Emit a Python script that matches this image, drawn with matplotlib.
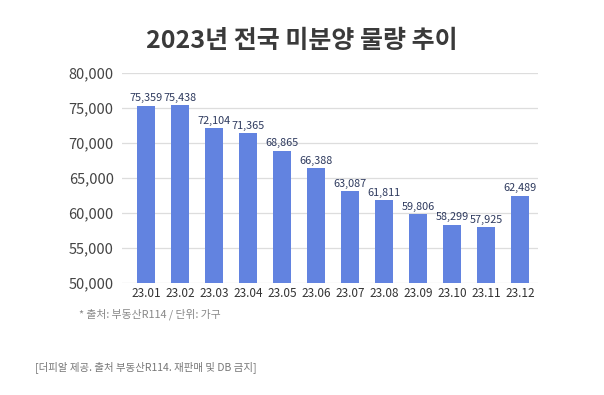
import matplotlib.pyplot as plt
import numpy as np

plt.rcParams['font.family'] = ['Noto Sans CJK KR', 'DejaVu Sans']

# 데이터
months = ['23.01', '23.02', '23.03', '23.04', '23.05', '23.06',
          '23.07', '23.08', '23.09', '23.10', '23.11', '23.12']
unsold = [75359, 75438, 72104, 71365, 68865, 66388,
          63087, 61811, 59806, 58299, 57925, 62489]
yticks = [50000, 55000, 60000, 65000, 70000, 75000, 80000]

fig = plt.figure(figsize=(6.04, 3.95), dpi=100)
ax = fig.add_axes([0.202, 0.284, 0.689, 0.531])

x = np.arange(len(months))
bars = ax.bar(x, unsold, width=0.54, color='#6283E0', zorder=3)

for b, v in zip(bars, unsold):
    ax.text(b.get_x() + b.get_width() / 2, v + 350, f'{v:,}',
            ha='center', va='bottom', fontsize=7.8, color='#2E3A5E')

ax.set_ylim(50000, 80000)
ax.set_xlim(-0.71, 11.53)
ax.set_yticks(yticks)
ax.set_yticklabels([f'{t:,}' for t in yticks], fontsize=10.5, color='#444444')
ax.set_xticks(x)
ax.set_xticklabels(months, fontsize=8.5, color='#333333')
ax.tick_params(length=0, pad=3)
ax.tick_params(axis='y', pad=6)
ax.grid(axis='y', color='#DDDDDD', linewidth=0.9, zorder=0)
for s in ax.spines.values():
    s.set_visible(False)

fig.text(0.5, 0.895, '2023년 전국 미분양 물량 추이', ha='center', va='center',
         fontsize=18, fontweight='bold', color='#3A3A3A')
fig.text(0.13, 0.205, '* 출처: 부동산R114 / 단위: 가구', ha='left', va='center',
         fontsize=7.8, color='#888888')
fig.text(0.058, 0.072, '[더피알 제공. 출처 부동산R114. 재판매 및 DB 금지]', ha='left', va='center',
         fontsize=7.5, color='#777777')

fig.savefig('out.png', dpi=100)
